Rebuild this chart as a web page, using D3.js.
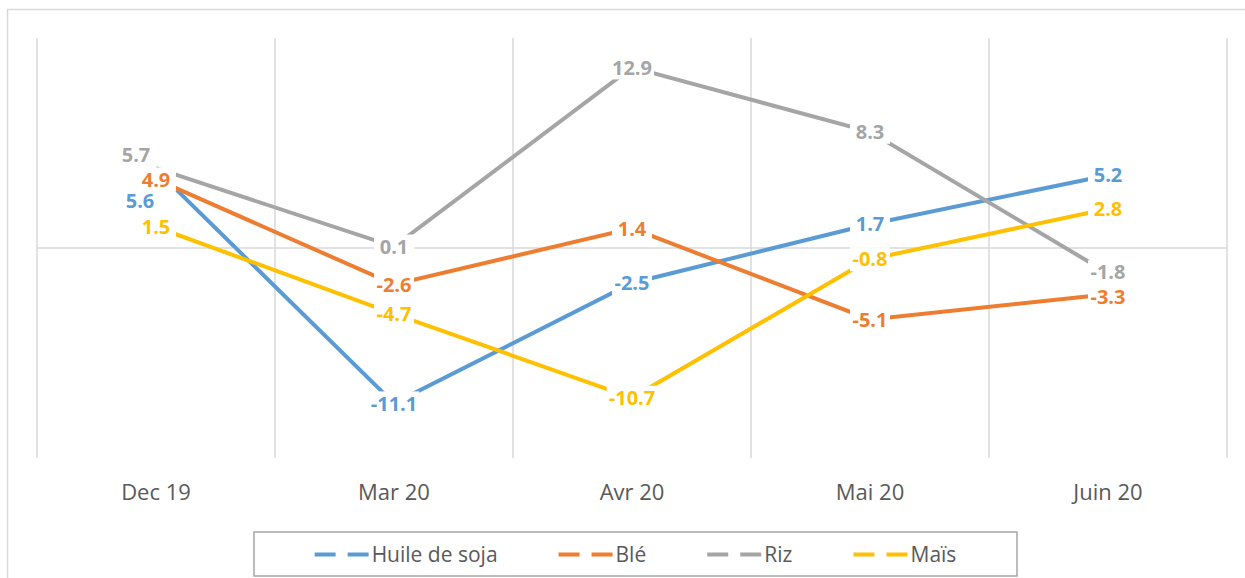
<!DOCTYPE html>
<html>
<head>
    <meta charset="utf-8">
    <script src="https://d3js.org/d3.v7.min.js"></script>
    <style>
        body { margin: 0px; background: #fff; }
        svg { display: block; }
        .xlab text { fill: #595959; font-size: 22px; font-family: 'Open Sans', sans-serif; }
        .dlabel { font-size: 20px; font-weight: bold; font-family: 'Open Sans', sans-serif; }
        .legend-text { fill: #595959; font-size: 21px; font-family: 'Open Sans', sans-serif; }
    </style>
</head>
<body>
    <svg width="1245" height="578"></svg>
    <script>
        // data
        const categories = ['Dec 19', 'Mar 20', 'Avr 20', 'Mai 20', 'Juin 20'];
        const seriesNames = ['Huile de soja', 'Blé', 'Riz', 'Maïs'];
        const huileValues = [5.6, -11.1, -2.5, 1.7, 5.2];
        const bleValues = [4.9, -2.6, 1.4, -5.1, -3.3];
        const rizValues = [5.7, 0.1, 12.9, 8.3, -1.8];
        const maisValues = [1.5, -4.7, -10.7, -0.8, 2.8];
        const colors = ['#5B9BD5', '#ED7D31', '#A5A5A5', '#FFC000'];

        const series = [huileValues, bleValues, rizValues, maisValues].map((vals, i) => ({
            name: seriesNames[i],
            color: colors[i],
            values: vals.map((v, j) => ({ cat: categories[j], val: v }))
        }));

        // a few labels were dragged by hand in the original
        const nudge = {
            'Riz|Dec 19': [-20, -13],
            'Huile de soja|Dec 19': [-16, 31],
            'Riz|Juin 20': [0, -1],
            'Blé|Juin 20': [0, 3]
        };

        const svg = d3.select('svg');
        const plot = { left: 37, right: 1227, top: 38, bottom: 458 };

        const x = d3.scaleBand().domain(categories).range([plot.left, plot.right]);
        const y = d3.scaleLinear().domain([-15, 15]).range([plot.bottom, plot.top]);

        // outer chart border (right/bottom run off the picture)
        svg.append('rect')
            .attr('x', 7.5).attr('y', 9.5)
            .attr('width', 1260).attr('height', 600)
            .attr('fill', 'none').attr('stroke', '#d9d9d9').attr('stroke-width', 1.5);

        // vertical gridlines between categories
        const gridX = categories.map(c => x(c)).concat([x.range()[1]]);
        svg.append('g').selectAll('line').data(gridX).join('line')
            .attr('x1', d => d).attr('x2', d => d)
            .attr('y1', plot.top).attr('y2', plot.bottom)
            .attr('stroke', '#d9d9d9').attr('stroke-width', 1.5);

        // zero line
        svg.append('line')
            .attr('x1', plot.left).attr('x2', plot.right)
            .attr('y1', y(0)).attr('y2', y(0))
            .attr('stroke', '#d9d9d9').attr('stroke-width', 1.5);

        // category labels
        const xAxis = d3.axisBottom(x).tickSize(0).tickPadding(26);
        const xAxisG = svg.append('g').attr('class', 'xlab')
            .attr('transform', `translate(0,${plot.bottom})`)
            .call(xAxis);
        xAxisG.select('.domain').remove();
        xAxisG.selectAll('text').attr('font-size', null).attr('font-family', null);

        const cx = d => x(d.cat) + x.bandwidth() / 2;
        const line = d3.line().x(cx).y(d => y(d.val));

        svg.append('g').selectAll('path').data(series).join('path')
            .attr('fill', 'none')
            .attr('stroke', d => d.color)
            .attr('stroke-width', 4)
            .attr('d', d => line(d.values));

        // data labels with white boxes
        const labG = svg.append('g');
        series.forEach(s => {
            s.values.forEach(d => {
                const off = nudge[s.name + '|' + d.cat] || [0, 0];
                const px = cx(d) + off[0];
                const py = y(d.val) + off[1];
                const g = labG.append('g');
                const t = g.append('text')
                    .attr('class', 'dlabel')
                    .attr('x', px).attr('y', py)
                    .attr('dy', '0.36em')
                    .attr('text-anchor', 'middle')
                    .attr('fill', s.color)
                    .text(d.val.toFixed(1));
                const w = Math.max(t.node().getComputedTextLength() + 4, 40);
                g.insert('rect', 'text')
                    .attr('x', px - w / 2).attr('y', py - 12)
                    .attr('width', w).attr('height', 24)
                    .attr('fill', '#fff');
            });
        });

        // legend
        const legend = { left: 254, right: 1017, top: 532, bottom: 576 };
        svg.append('rect')
            .attr('x', legend.left).attr('y', legend.top)
            .attr('width', legend.right - legend.left)
            .attr('height', legend.bottom - legend.top)
            .attr('fill', '#fff').attr('stroke', '#a6a6a6').attr('stroke-width', 1.5);

        const markW = 54, gap = 61, ly = (legend.top + legend.bottom) / 2 + 0.5;
        const items = svg.append('g').selectAll('g').data(series).join('g');
        items.append('line')
            .attr('x1', 0).attr('x2', markW)
            .attr('y1', ly).attr('y2', ly)
            .attr('stroke', d => d.color).attr('stroke-width', 4)
            .attr('stroke-dasharray', '21 12');
        items.append('text')
            .attr('class', 'legend-text')
            .attr('x', markW + 3).attr('y', ly).attr('dy', '0.36em')
            .text(d => d.name);

        const widths = items.nodes().map(n => n.getBBox().width);
        const total = d3.sum(widths) + gap * (widths.length - 1);
        let pos = (legend.left + legend.right) / 2 - total / 2;
        items.each(function (d, i) {
            d3.select(this).attr('transform', `translate(${pos},0)`);
            pos += widths[i] + gap;
        });
    </script>
</body>
</html>
